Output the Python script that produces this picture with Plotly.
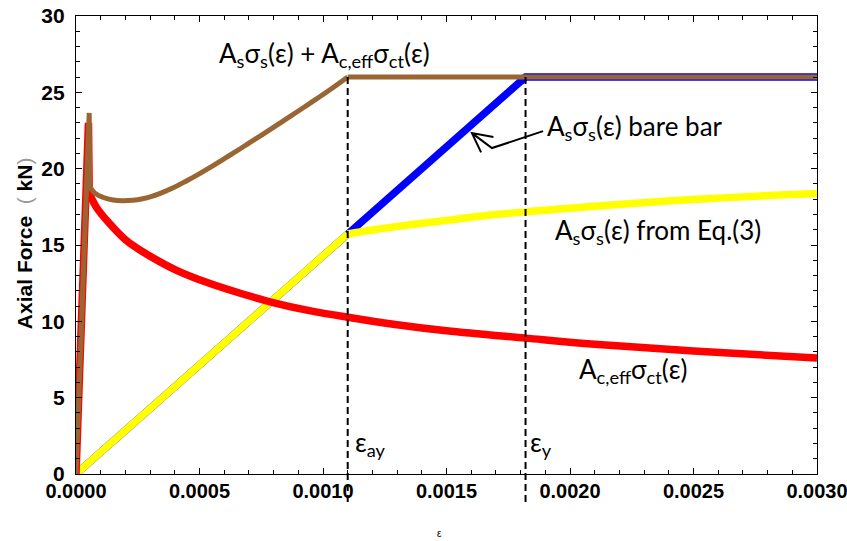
import plotly.graph_objects as go

# Strain markers
eps_ay = 0.00110   # yield strain of embedded bar (average)
eps_y = 0.00182    # yield strain of bare bar
x_max = 0.003
y_max = 30
x_ticks = [0.0, 0.0005, 0.0010, 0.0015, 0.0020, 0.0025, 0.0030]
y_ticks = [0, 5, 10, 15, 20, 25, 30]

# Bare bar response As*sigma_s(eps)
bare_eps = [0.0, eps_y, 0.003]
bare_force = [0.0, 26.0, 26.0]

# Steel response from Eq.(3)
eq3_eps = [0.0, 0.00110, 0.00120, 0.00140, 0.00151, 0.00160, 0.00182, 0.00200,
           0.00225, 0.00250, 0.00275, 0.00300]
eq3_force = [0.0, 15.72, 15.98, 16.42, 16.63, 16.82, 17.17, 17.40,
             17.72, 17.98, 18.20, 18.38]

# Concrete tension contribution Ac,eff*sigma_ct(eps)
conc_eps = [0.0, 0.0000505, 0.0000535, 0.000081, 0.000135, 0.000202, 0.00027,
            0.000405, 0.00054, 0.000675, 0.00081, 0.000945, 0.00110, 0.00130,
            0.00150, 0.00182, 0.00210, 0.00250, 0.00300]
conc_force = [0.0, 23.0, 18.40, 17.51, 16.42, 15.32, 14.56, 13.36, 12.49, 11.79,
              11.18, 10.70, 10.27, 9.78, 9.38, 8.90, 8.50, 8.05, 7.60]

# Total response As*sigma_s + Ac,eff*sigma_ct
tot_eps = [0.0, 0.0000535, 0.0000555, 0.00008, 0.000108, 0.00015, 0.000189,
           0.00023, 0.00027, 0.00031, 0.000351, 0.0004, 0.000445, 0.00049,
           0.00054, 0.00059, 0.000648, 0.0007, 0.000756, 0.00081, 0.000864,
           0.00092, 0.000972, 0.00104, 0.00110, 0.00300]
tot_force = [0.0, 23.65, 18.8, 18.35, 18.13, 17.95, 17.90, 17.93, 18.03, 18.20,
             18.45, 18.80, 19.18, 19.58, 20.05, 20.55, 21.13, 21.67, 22.25,
             22.82, 23.39, 23.99, 24.55, 25.30, 26.0, 26.0]

brown = "#996633"
label_font = dict(family="Lato, Carlito, sans-serif", size=26, color="black")

fig = go.Figure()


def add_piece(xs, ys, color, width, shape):
    fig.add_trace(go.Scatter(x=xs, y=ys, mode="lines", line_shape=shape,
                             line=dict(color=color, width=width),
                             hoverinfo="skip"))


# Bare bar: straight elastic branch and plateau
add_piece(bare_eps, bare_force, "#0000FF", 7.5, "linear")

# Eq.(3): straight to the kink, smooth beyond
add_piece(eq3_eps[:2], eq3_force[:2], "#FFFF00", 7.5, "linear")
add_piece(eq3_eps[1:], eq3_force[1:], "#FFFF00", 7.5, "spline")

# Concrete: sharp rise and drop at cracking, smooth softening branch
add_piece(conc_eps[:3], conc_force[:3], "#FF0000", 7.5, "linear")
add_piece(conc_eps[2:], conc_force[2:], "#FF0000", 7.5, "spline")

# Total: rise/drop, smooth branch up to eps_ay, then plateau
add_piece(tot_eps[:3], tot_force[:3], brown, 5, "linear")
add_piece(tot_eps[2:-1], tot_force[2:-1], brown, 5, "spline")
add_piece(tot_eps[-2:], tot_force[-2:], brown, 5, "linear")

# Dashed strain markers, running from the plateau down past the axis
for e in (eps_ay, eps_y):
    fig.add_shape(type="line", xref="x", yref="paper",
                  x0=e, x1=e, y0=26.0 / y_max, y1=-0.064,
                  line=dict(color="black", width=2, dash="7px,4px"))

# Leader arrow for the bare bar label
fig.add_shape(type="path", xref="x", yref="y",
              path="M 0.001891 22.46 L 0.001684 21.35 L 0.001603 22.33 "
                   "M 0.001690 22.07 L 0.001603 22.33 L 0.001640 21.07",
              line=dict(color="black", width=2))

annotations = [
    dict(x=0.000571, y=27.45, text="A<sub>s</sub>σ<sub>s</sub>(ε) + A<sub>c,eff</sub>σ<sub>ct</sub>(ε)"),
    dict(x=0.001900, y=22.7, text="A<sub>s</sub>σ<sub>s</sub>(ε) bare bar"),
    dict(x=0.001931, y=15.9, text="A<sub>s</sub>σ<sub>s</sub>(ε) from Eq.(3)"),
    dict(x=0.002028, y=6.75, text="A<sub>c,eff</sub>σ<sub>ct</sub>(ε)"),
    dict(x=0.001121, y=2.0, text="ε<sub>ay</sub>"),
    dict(x=0.001830, y=2.0, text="ε<sub>y</sub>"),
]
for a in annotations:
    fig.add_annotation(xref="x", yref="y", xanchor="left", yanchor="middle",
                       showarrow=False, font=label_font, **a)

# Axis titles
fig.add_annotation(xref="paper", yref="paper", x=-0.0702, y=0.504,
                   xanchor="center", yanchor="middle", textangle=-90, showarrow=False,
                   text="<b>Axial Force</b>  <span style='color:#999'>(</span> <b>kN</b><span style='color:#999'>)</span>",
                   font=dict(family="Liberation Sans, Arial, sans-serif", size=21, color="black"))
fig.add_annotation(xref="paper", yref="paper", x=0.49, y=-0.129,
                   xanchor="center", yanchor="middle", showarrow=False,
                   text="ε", font=dict(family="Liberation Sans, Arial, sans-serif", size=10, color="black"))

x_tick_font = dict(family="Liberation Sans, Arial, sans-serif", size=20, color="black", weight="bold")
y_tick_font = dict(family="Liberation Sans, Arial, sans-serif", size=21, color="black", weight="bold")

fig.update_xaxes(range=[0, x_max], tickmode="array", tickvals=x_ticks,
                 ticktext=[f"{v:.4f}" for v in x_ticks], ticklabeloverflow="allow",
                 automargin=False,
                 ticks="inside", ticklen=6, tickwidth=1, tickcolor="black",
                 minor=dict(ticks="inside", tick0=0, dtick=0.0001, ticklen=3.5, tickcolor="black"),
                 showline=True, linecolor="black", linewidth=1.3, mirror="allticks",
                 showgrid=False, zeroline=False, tickfont=x_tick_font, ticklabelstandoff=-1)
fig.update_yaxes(range=[0, y_max], tickmode="array", tickvals=y_ticks,
                 ticklabeloverflow="allow", automargin=False,
                 ticks="inside", ticklen=6, tickwidth=1, tickcolor="black",
                 minor=dict(ticks="inside", tick0=0, dtick=1, ticklen=3.5, tickcolor="black"),
                 showline=True, linecolor="black", linewidth=1.3, mirror="allticks",
                 showgrid=False, zeroline=False, tickfont=y_tick_font, ticklabelstandoff=6)

fig.update_layout(width=847, height=541, showlegend=False,
                  margin=dict(l=76, r=30, t=16, b=67),
                  paper_bgcolor="white", plot_bgcolor="white")

fig.write_html("out.html")
